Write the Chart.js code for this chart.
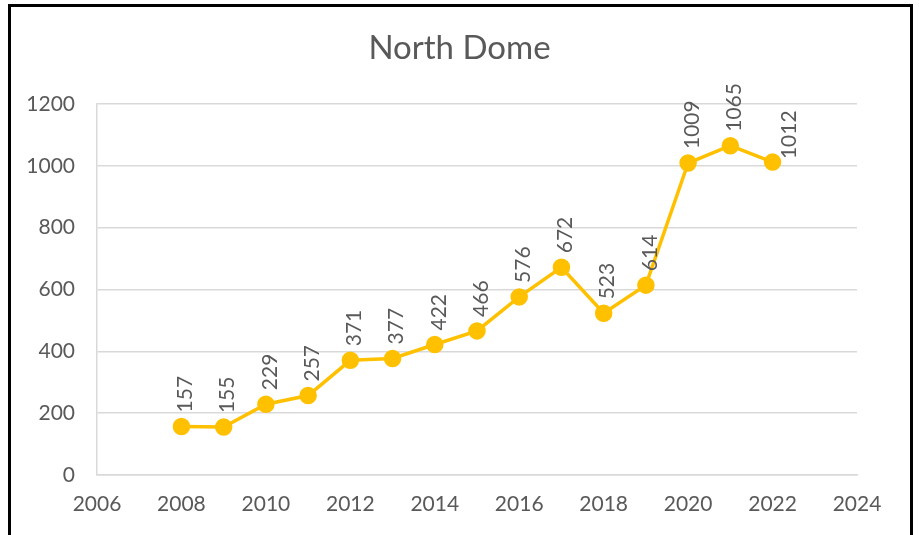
<!DOCTYPE html>
<html>
<head>
<meta charset="utf-8">
<script src="https://cdn.jsdelivr.net/npm/chart.js@4.4.1/dist/chart.umd.min.js"></script>
<style>
  html, body { margin: 0; padding: 0; background: #fff; overflow: hidden; }
  #wrap { position: relative; width: 919px; height: 535px; }
  #frame {
    position: absolute; left: 8px; top: 4px; width: 905px; height: 600px;
    box-sizing: border-box; border: 3px solid #000; pointer-events: none;
  }
</style>
</head>
<body>
<div id="wrap">
  <canvas id="domeChart" width="919" height="535"></canvas>
  <div id="frame"></div>
</div>
<script>
// values
const years = [2008, 2009, 2010, 2011, 2012, 2013, 2014, 2015, 2016, 2017, 2018, 2019, 2020, 2021, 2022];
const counts = [157, 155, 229, 257, 371, 377, 422, 466, 576, 672, 523, 614, 1009, 1065, 1012];
const xTicks = [2006, 2008, 2010, 2012, 2014, 2016, 2018, 2020, 2022, 2024];
const yTicks = [0, 200, 400, 600, 800, 1000, 1200];

const FONT = 'Lato, "Noto Sans", sans-serif';
const TEXT = '#595959';
const GOLD = '#FFC000';
const GRID = '#d9d9d9';

// vertical value labels, drawn from the point elements the library placed
const valueLabels = {
    id: 'valueLabels',
    afterLayout(chart) {
        // centre the title on the whole canvas, not on the padded box
        if (chart.titleBlock) {
            chart.titleBlock.left = 0;
            chart.titleBlock.right = chart.width;
        }
    },
    afterDatasetsDraw(chart) {
        const meta = chart.getDatasetMeta(0);
        const ctx = chart.ctx;
        ctx.save();
        ctx.font = '21px ' + FONT;
        ctx.fillStyle = TEXT;
        ctx.textAlign = 'left';
        ctx.textBaseline = 'middle';
        meta.data.forEach(function (pt, i) {
            const last = i === meta.data.length - 1;
            const dx = last ? 17 : 4;
            const dy = last ? -3 : -14;
            ctx.save();
            ctx.translate(pt.x + dx, pt.y + dy);
            ctx.rotate(-Math.PI / 2);
            ctx.fillText(String(counts[i]), 0, 0);
            ctx.restore();
        });
        ctx.restore();
    }
};

document.addEventListener("DOMContentLoaded", function () {
    const ctx = document.getElementById('domeChart').getContext('2d');
    new Chart(ctx, {
        type: 'line',
        data: {
            datasets: [{
                label: 'North Dome',
                data: years.map(function (y, i) { return { x: y, y: counts[i] }; }),
                borderColor: GOLD,
                backgroundColor: GOLD,
                borderWidth: 3.5,
                pointRadius: 7,
                pointHoverRadius: 7,
                pointBackgroundColor: GOLD,
                pointBorderColor: GOLD,
                tension: 0
            }]
        },
        options: {
            responsive: false,
            animation: false,
            layout: { padding: { left: 0, right: 62, top: 0, bottom: 0 } },
            plugins: {
                legend: { display: false },
                tooltip: { enabled: false },
                title: {
                    display: true,
                    text: 'North Dome',
                    color: TEXT,
                    font: { family: FONT, size: 33, weight: 'normal' },
                    padding: { top: 29, bottom: 35.4 }
                }
            },
            scales: {
                x: {
                    type: 'linear',
                    min: xTicks[0],
                    max: xTicks[xTicks.length - 1],
                    afterBuildTicks: function (scale) {
                        scale.ticks = xTicks.map(function (v) { return { value: v }; });
                    },
                    afterFit: function (scale) { scale.height = 60; },
                    grid: { display: false, drawTicks: false },
                    border: { display: true, color: GRID, width: 1.5 },
                    ticks: {
                        color: TEXT,
                        padding: 17,
                        maxRotation: 0,
                        font: { family: FONT, size: 21 },
                        callback: function (v) { return String(v); }
                    }
                },
                y: {
                    min: yTicks[0],
                    max: yTicks[yTicks.length - 1],
                    afterBuildTicks: function (scale) {
                        scale.ticks = yTicks.map(function (v) { return { value: v }; });
                    },
                    afterFit: function (scale) { scale.width = 97; },
                    grid: { color: GRID, lineWidth: 1.5, drawTicks: false },
                    border: { display: true, color: GRID, width: 1.5 },
                    ticks: {
                        color: TEXT,
                        padding: 22,
                        font: { family: FONT, size: 21 },
                        callback: function (v) { return String(v); }
                    }
                }
            }
        },
        plugins: [valueLabels]
    });
});
</script>
</body>
</html>
